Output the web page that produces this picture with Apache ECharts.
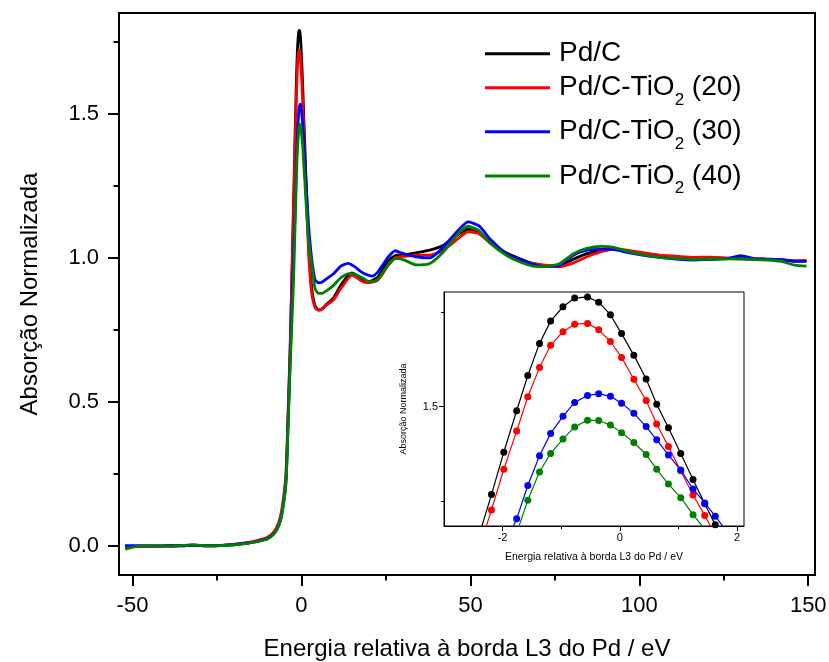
<!DOCTYPE html>
<html><head><meta charset="utf-8">
<script src="https://cdn.jsdelivr.net/npm/echarts@6/dist/echarts.min.js"></script>
<style>html,body{margin:0;padding:0;background:#fff}#c{width:829px;height:662px}</style>
</head><body><div id="c"></div>
<script>
// energy relative to Pd L3 edge (eV)
const energy = [
  -52.2, -48, -44, -40, -36, -32, -28, -24, -20, -16, -13.2, -10.2, -8.3, -6.8, -5.8, -4.6, -4.0, -3.3, -2.4,
  -2.19, -1.98, -1.76, -1.57, -1.37, -1.18, -0.97, -0.77, -0.55, -0.36, -0.16, 0.03, 0.24, 0.45, 0.63, 0.83, 1.04, 1.25, 1.45, 1.63, 1.84,
  2.2, 3.0, 4.0, 5.0, 6.0, 7.5, 9.5, 11.4, 12.4, 13.9, 14.9, 16.0, 17.3, 18.5, 19.8, 21.0, 22.5, 24.0, 25.7, 27.7,
  29.0, 31.0, 34.0, 38.0, 42.0, 46.0, 49.3, 52.5, 56.0, 60.5, 64.5, 68.5, 72.5, 76.5, 80.5, 84.5, 88.5, 92.0, 96.0, 100,
  106, 111, 116, 121, 126, 130, 134, 138, 142, 146, 149.5
];
const pdC = [
  -0.003, 0.0, 0.001, 0.0, 0.002, 0.004, 0.001, 0.002, 0.006, 0.011, 0.017, 0.026, 0.042, 0.072, 0.118, 0.235, 0.43, 0.70, 1.16,
  1.267, 1.379, 1.489, 1.582, 1.667, 1.726, 1.764, 1.787, 1.790, 1.776, 1.743, 1.693, 1.636, 1.573, 1.506, 1.444, 1.376, 1.307, 1.243, 1.187, 1.125,
  1.03, 0.90, 0.835, 0.82, 0.822, 0.84, 0.862, 0.90, 0.918, 0.94, 0.948, 0.942, 0.928, 0.92, 0.918, 0.922, 0.932, 0.96, 0.99, 1.008,
  1.01, 1.012, 1.018, 1.027, 1.044, 1.079, 1.099, 1.087, 1.056, 1.018, 0.998, 0.981, 0.972, 0.975, 0.996, 1.015, 1.027, 1.033, 1.025, 1.015,
  1.006, 1.003, 0.998, 0.997, 0.998, 0.997, 0.996, 0.995, 0.994, 0.99, 0.99
];
const pdCTiO2_20 = [
  -0.002, 0.001, 0.0, 0.001, 0.001, 0.003, 0.002, 0.003, 0.006, 0.012, 0.019, 0.03, 0.048, 0.08, 0.128, 0.25, 0.45, 0.71, 1.125,
  1.226, 1.334, 1.435, 1.526, 1.603, 1.662, 1.698, 1.718, 1.720, 1.703, 1.672, 1.630, 1.572, 1.516, 1.454, 1.394, 1.330, 1.266, 1.212, 1.16, 1.10,
  1.0, 0.88, 0.828, 0.818, 0.822, 0.837, 0.855, 0.89, 0.906, 0.93, 0.94, 0.935, 0.923, 0.916, 0.914, 0.916, 0.922, 0.945, 0.975, 1.0,
  1.005, 1.006, 1.01, 1.01, 1.027, 1.064, 1.091, 1.085, 1.05, 1.015, 0.994, 0.981, 0.975, 0.969, 0.983, 1.004, 1.021, 1.03, 1.028, 1.02,
  1.01, 1.006, 1.002, 1.003, 1.0, 0.998, 0.997, 0.995, 0.993, 0.99, 0.992
];
const pdCTiO2_30 = [
  0.002, 0.001, 0.0, 0.002, 0.001, 0.003, 0.001, 0.002, 0.005, 0.011, 0.017, 0.026, 0.042, 0.07, 0.112, 0.22, 0.41, 0.66, 0.98,
  1.05, 1.125, 1.203, 1.291, 1.370, 1.429, 1.474, 1.511, 1.529, 1.534, 1.527, 1.509, 1.482, 1.447, 1.412, 1.372, 1.332, 1.282, 1.245, 1.210, 1.166,
  1.10, 1.0, 0.925, 0.914, 0.916, 0.928, 0.945, 0.969, 0.976, 0.981, 0.976, 0.968, 0.955, 0.946, 0.94, 0.937, 0.95, 0.975, 1.004, 1.025,
  1.02, 1.012, 1.004, 1.0, 1.038, 1.091, 1.125, 1.112, 1.064, 1.015, 0.995, 0.978, 0.970, 0.975, 1.009, 1.027, 1.030, 1.03, 1.02, 1.012,
  1.002, 0.996, 0.993, 0.995, 0.998, 1.008, 0.998, 0.996, 0.994, 0.988, 0.988
];
const pdCTiO2_40 = [
  -0.01, 0.0, 0.001, 0.0, 0.002, 0.005, 0.001, 0.002, 0.005, 0.01, 0.016, 0.024, 0.04, 0.068, 0.11, 0.215, 0.40, 0.64, 0.90,
  0.98, 1.07, 1.165, 1.252, 1.327, 1.376, 1.414, 1.446, 1.464, 1.463, 1.451, 1.431, 1.405, 1.373, 1.334, 1.295, 1.259, 1.214, 1.176, 1.14, 1.10,
  1.05, 0.98, 0.895, 0.877, 0.877, 0.887, 0.905, 0.929, 0.937, 0.946, 0.946, 0.942, 0.936, 0.928, 0.918, 0.918, 0.925, 0.948, 0.975, 0.998,
  0.998, 0.99, 0.976, 0.981, 1.021, 1.079, 1.110, 1.095, 1.05, 1.010, 0.987, 0.972, 0.970, 0.981, 1.015, 1.033, 1.040, 1.038, 1.025, 1.013,
  1.002, 0.998, 0.995, 0.996, 0.997, 0.997, 0.995, 0.993, 0.988, 0.975, 0.972
];
const seriesNames = ['Pd/C', 'Pd/C-TiO2 (20)', 'Pd/C-TiO2 (30)', 'Pd/C-TiO2 (40)'];
const seriesValues = [pdC, pdCTiO2_20, pdCTiO2_30, pdCTiO2_40];
const seriesColors = ['#000000', '#ff0000', '#0000ff', '#008000'];
const mainXMajor = [-50, 0, 50, 100, 150];
const mainXMinor = [-25, 25, 75, 125];
const mainYMajor = [0, 0.5, 1.0, 1.5];
const mainYMinor = [0.25, 0.75, 1.25, 1.75];
const insetXMajor = [-2, 0, 2];
const insetXMinor = [-1, 1];
const insetYMajor = [1.5];
const insetYMinor = [1.25, 1.75];
const xTitle = 'Energia relativa à borda L3 do Pd / eV';
const yTitle = 'Absorção Normalizada';

const FONT = '"Liberation Sans", Arial, Helvetica, sans-serif';
const chart = echarts.init(document.getElementById('c'), null, {renderer: 'canvas'});

function axis(common, ticks, len, w, labels, fs, margin, fmt) {
  return Object.assign({
    type: 'value',
    splitLine: {show: false},
    axisLine: {show: labels !== null, onZero: false, lineStyle: {color: '#000', width: w}},
    axisTick: {show: true, inside: false, customValues: ticks, length: len, lineStyle: {color: '#000', width: w}},
    axisLabel: labels === null ? {show: false} : {show: true, customValues: labels, fontSize: fs, color: '#000', fontFamily: FONT, margin: margin, formatter: fmt},
    nameMoveOverlap: false
  }, common);
}
const fmt1 = v => Number(v).toFixed(1);
const fmt0 = v => String(Math.round(v));

const xAxes = [
  axis({gridIndex: 0, position: 'bottom', min: -54, max: 152, name: xTitle, nameLocation: 'middle', nameGap: 62,
        nameTextStyle: {fontSize: 24, color: '#000', fontFamily: FONT}}, mainXMajor, 11, 2, mainXMajor, 22, 20, fmt0),
  axis({gridIndex: 0, position: 'bottom', min: -54, max: 152}, mainXMinor, 5.5, 2, null),
  axis({gridIndex: 1, position: 'bottom', min: -3.0, max: 2.12, name: xTitle, nameLocation: 'middle', nameGap: 26,
        nameTextStyle: {fontSize: 10.5, color: '#000', fontFamily: FONT}}, insetXMajor, 5, 1, insetXMajor, 11, 6, fmt0),
  axis({gridIndex: 1, position: 'bottom', min: -3.0, max: 2.12}, insetXMinor, 3, 1, null)
];
const yAxes = [
  axis({gridIndex: 0, position: 'left', min: -0.1, max: 1.85, name: yTitle, nameLocation: 'middle', nameGap: 77,
        nameTextStyle: {fontSize: 24, color: '#000', fontFamily: FONT}}, mainYMajor, 11, 2, mainYMajor, 22, 20, fmt1),
  axis({gridIndex: 0, position: 'left', min: -0.1, max: 1.85}, mainYMinor, 5.5, 2, null),
  axis({gridIndex: 1, position: 'left', min: 1.184, max: 1.803, name: yTitle, nameLocation: 'middle', nameGap: 36,
        nameTextStyle: {fontSize: 9, color: '#000', fontFamily: FONT}}, insetYMajor, 5, 1, insetYMajor, 11, 6, fmt1),
  axis({gridIndex: 1, position: 'left', min: 1.184, max: 1.803}, insetYMinor, 3, 1, null)
];

const series = [];
seriesNames.forEach((name, k) => {
  const pts = energy.map((e, i) => [e, seriesValues[k][i]]);
  series.push({
    name: name, type: 'line', xAxisIndex: 0, yAxisIndex: 0, data: pts,
    symbol: 'none', showSymbol: false, smooth: 0.2, clip: true,
    lineStyle: {color: seriesColors[k], width: 2.8}, itemStyle: {color: seriesColors[k]},
    z: 2 + k
  });
});
seriesNames.forEach((name, k) => {
  const pts = energy.map((e, i) => [e, seriesValues[k][i]]);
  series.push({
    name: name, type: 'line', xAxisIndex: 2, yAxisIndex: 2, data: pts,
    symbol: 'circle', symbolSize: 7, showSymbol: true, smooth: false, clip: true,
    lineStyle: {color: seriesColors[k], width: 1.2}, itemStyle: {color: seriesColors[k], borderWidth: 0},
    z: 10 + k
  });
});

// legend rows: vertical position of each row's line icon
const legendIconCenters = [52.7, 87.7, 131.7, 176];
const legends = seriesNames.map((name, k) => {
  const hasSub = name.indexOf('TiO2') >= 0;
  return {
    show: true, orient: 'vertical', left: 485, top: legendIconCenters[k] - (hasSub ? 21 : 13), padding: 0,
    data: [name], icon: 'rect', itemWidth: 65, itemHeight: 3,
    textStyle: {
      color: '#000', fontSize: 28, fontFamily: FONT,
      rich: {
        a: {fontSize: 28, lineHeight: 42, color: '#000', fontFamily: FONT, padding: [0, 0, 0, 4]},
        t: {fontSize: 28, lineHeight: 42, color: '#000', fontFamily: FONT},
        s: {fontSize: 17, lineHeight: 17, color: '#000', fontFamily: FONT, padding: [25, 0, 0, 0], verticalAlign: 'top'}
      }
    },
    formatter: n => n.indexOf('TiO2') >= 0
        ? '{a|' + n.split('TiO2')[0] + 'TiO}{s|2}{t|' + n.split('TiO2')[1] + '}'
        : '{a|' + n + '}'
  };
});

chart.setOption({
  animation: false,
  backgroundColor: '#fff',
  textStyle: {fontFamily: FONT},
  grid: [
    {left: 119, top: 13, right: 14, bottom: 87, containLabel: false, outerBoundsMode: 'none',
     show: true, borderColor: '#000', borderWidth: 2, backgroundColor: 'transparent'},
    {left: 444, top: 292, width: 300, height: 234, containLabel: false, outerBoundsMode: 'none',
     show: true, borderColor: '#000', borderWidth: 1, backgroundColor: '#fff'}
  ],
  legend: legends,
  xAxis: xAxes,
  yAxis: yAxes,
  series: series
});
</script>
</body></html>
